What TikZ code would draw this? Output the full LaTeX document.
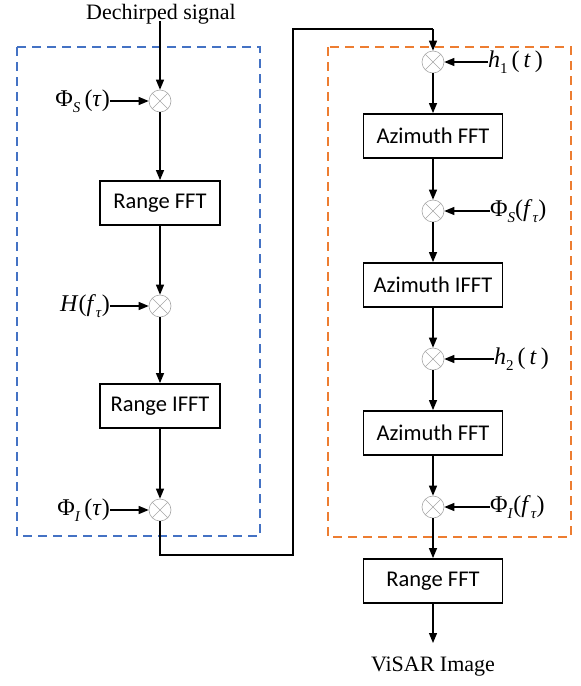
\documentclass[tikz,border=0pt]{standalone}
\usepackage{fontspec}
\setmainfont{Liberation Serif}
\newfontfamily\boxfont{Carlito}
\usetikzlibrary{arrows.meta}
\definecolor{dblue}{RGB}{68,114,196}
\definecolor{dorange}{RGB}{237,125,49}
\newcommand{\lsub}[1]{\raisebox{-0.5ex}{\fontsize{15}{15}\selectfont #1}}
\begin{document}
\begin{tikzpicture}[x=1pt,y=-1pt,
  arr/.style={-{Triangle[length=10pt,width=8pt]}, line width=1.2pt},
  wire/.style={line width=1.2pt},
  blk/.style={draw, line width=1.8pt, minimum width=120pt, minimum height=44pt, inner sep=0pt, font=\boxfont\fontsize{22.5}{26}\selectfont},
  wblk/.style={blk, minimum width=139pt},
  mult/.style={circle, draw=gray!70, line width=0.6pt, minimum size=22pt, inner sep=0pt,
    path picture={\draw[gray!70, line width=0.6pt] (path picture bounding box.north west) -- (path picture bounding box.south east)
      (path picture bounding box.north east) -- (path picture bounding box.south west);}},
  lab/.style={inner sep=0pt, font=\fontsize{24}{28}\selectfont},
  ttl/.style={inner sep=0pt, font=\fontsize{22}{26}\selectfont},
  grp/.style={dashed, dash pattern=on 9pt off 6pt, line width=1.5pt}]
\useasboundingbox (0,0) rectangle (581,686);

% groups
\draw[grp, dblue] (17,47) rectangle (260,536);
\draw[grp, dorange] (328,47) rectangle (571,537);

% left column
\node[ttl] (src) at (161,14) {Dechirped signal};
\node[mult] (m1) at (160,101) {};
\node[blk] (rfft) at (160,203) {Range FFT};
\node[mult] (m2) at (160,306) {};
\node[blk] (rifft) at (160,406) {Range IFFT};
\node[mult] (m3) at (160,510) {};

\node[lab, anchor=east] (l1) at (110,101) {Φ\lsub{\textit{S}}\,(\textit{τ})};
\node[lab, anchor=east] (l2) at (110,306) {\textit{H}(\textit{f}\lsub{\textit{τ}})};
\node[lab, anchor=east] (l3) at (110,510) {Φ\lsub{\textit{I}}\,(\textit{τ})};

\coordinate (c0) at (160,21);
\draw[arr] (c0) -- (m1);
\draw[arr] (l1) -- (m1);
\draw[arr] (m1) -- (rfft);
\draw[arr] (rfft) -- (m2);
\draw[arr] (l2) -- (m2);
\draw[arr] (m2) -- (rifft);
\draw[arr] (rifft) -- (m3);
\draw[arr] (l3) -- (m3);

% right column
\node[mult] (m4) at (433,62) {};
\node[wblk] (afft) at (433,136) {Azimuth FFT};
\node[mult] (m5) at (433,211) {};
\node[wblk] (aifft) at (433,285) {Azimuth IFFT};
\node[mult] (m6) at (433,359) {};
\node[wblk] (afft2) at (433,433) {Azimuth FFT};
\node[mult] (m7) at (433,507) {};
\node[wblk] (rfft2) at (433,581) {Range FFT};
\node[ttl] (out) at (433,667) {ViSAR Image};
\coordinate (oend) at (433,643);

\node[lab, anchor=west] (r1) at (488,62) {\textit{h}\lsub{1}\,(\,\textit{t}\,)};
\node[lab, anchor=west] (r2) at (490,211) {Φ\lsub{\textit{S}}(\textit{f}\lsub{\textit{τ}})};
\node[lab, anchor=west] (r3) at (494,359) {\textit{h}\lsub{2}\,(\,\textit{t}\,)};
\node[lab, anchor=west] (r4) at (490,507) {Φ\lsub{\textit{I}}(\textit{f}\lsub{\textit{τ}})};

% link between columns
\coordinate (k1) at (160,555);
\coordinate (k2) at (293,555);
\coordinate (k3) at (293,29);
\coordinate (k4) at (433,29);
\draw[wire] (m3.south) -- (k1) -- (k2) -- (k3) -- (k4);
\draw[arr] (k4) -- (m4);

\draw[arr] (r1) -- (m4);
\draw[arr] (m4) -- (afft);
\draw[arr] (afft) -- (m5);
\draw[arr] (r2) -- (m5);
\draw[arr] (m5) -- (aifft);
\draw[arr] (aifft) -- (m6);
\draw[arr] (r3) -- (m6);
\draw[arr] (m6) -- (afft2);
\draw[arr] (afft2) -- (m7);
\draw[arr] (r4) -- (m7);
\draw[arr] (m7) -- (rfft2);
\draw[arr] (rfft2) -- (oend);
\end{tikzpicture}
\end{document}
